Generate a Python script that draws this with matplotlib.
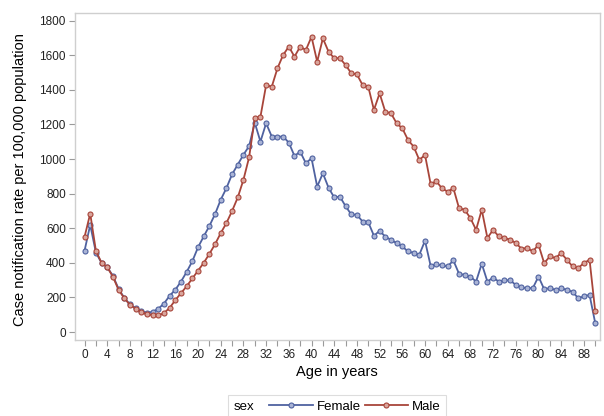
import matplotlib
matplotlib.use("Agg")
import matplotlib.pyplot as plt
from matplotlib.offsetbox import HPacker
from matplotlib.ticker import MultipleLocator

plt.rcParams['font.family'] = ['Liberation Sans', 'DejaVu Sans']

ages = list(range(91))
female = [470, 620, 460, 400, 375, 325, 250, 198, 160, 138,
          120, 112, 117, 135, 165, 210, 245, 292, 348, 410,
          490, 553, 613, 682, 765, 832, 912, 968, 1025, 1075,
          1210, 1101, 1207, 1130, 1130, 1130, 1095, 1018, 1043, 976,
          1005, 841, 918, 835, 778, 783, 728, 680, 678, 639,
          635, 557, 585, 552, 533, 514, 495, 466, 458, 447,
          528, 382, 392, 385, 380, 414, 337, 330, 320, 292,
          395, 292, 315, 292, 299, 299, 273, 258, 254, 254,
          321, 248, 254, 244, 254, 244, 233, 196, 206, 215, 52]
male = [550, 685, 470, 400, 375, 320, 244, 196, 158, 136,
        117, 102, 98, 96, 110, 140, 185, 225, 265, 310,
        355, 400, 452, 508, 572, 630, 700, 778, 880, 1010,
        1236, 1245, 1428, 1419, 1525, 1602, 1650, 1592, 1650, 1630,
        1707, 1563, 1698, 1621, 1583, 1583, 1544, 1496, 1490, 1428,
        1419, 1284, 1380, 1274, 1265, 1207, 1178, 1111, 1072, 995,
        1024, 855, 872, 830, 812, 832, 716, 707, 659, 591,
        707, 544, 591, 553, 544, 534, 515, 482, 486, 466,
        505, 399, 437, 428, 457, 418, 380, 370, 399, 418, 119]

series = [("Female", female, "#4f62a0", "#aab4d6"),
          ("Male", male, "#a8453a", "#d9a59c")]

fig = plt.figure(figsize=(6.04, 4.16), dpi=100)
ax = fig.add_axes([0.124, 0.183, 0.869, 0.786])

for name, vals, col, fill in series:
    ax.plot(ages, vals, color=col, lw=1.3, marker='o', ms=3.6,
            mfc=fill, mec=col, mew=0.8, label=name)

ax.set_xlim(-1.7, 90.8)
ax.set_ylim(-45, 1845)
ax.xaxis.set_major_locator(MultipleLocator(4))
ax.xaxis.set_minor_locator(MultipleLocator(2))
ax.yaxis.set_major_locator(MultipleLocator(200))

for s in ax.spines.values():
    s.set_color('#cfcfcf')
    s.set_linewidth(1.0)
ax.tick_params(axis='both', which='both', color='#9a9a9a', length=4,
               width=0.8, labelsize=8.5, labelcolor='#222222', pad=2.5)
ax.tick_params(axis='x', which='minor', length=4)
for lab in ax.get_xticklabels():
    lab.set_family(['Liberation Sans Narrow', 'Liberation Sans'])

ax.set_xlabel("Age in years", fontsize=10.5, labelpad=3)
ax.set_ylabel("Case notification rate per 100,000 population", fontsize=10.5)
ax.yaxis.set_label_coords(-0.092, 0.49)

leg = ax.legend(title="sex", ncol=2, loc='center', bbox_to_anchor=(0.5, -0.205),
                fontsize=9.5, title_fontsize=9.5, frameon=True, fancybox=False,
                handlelength=3.3, handletextpad=0.3, columnspacing=0.3,
                borderpad=0.3, edgecolor='#d5d5d5')
leg.get_frame().set_linewidth(0.8)

# put the "sex" title on the same row as the entries
title_box, entries_box = leg._legend_box.get_children()
fs = leg._fontsize * fig.dpi / 72
leg._legend_box = HPacker(pad=leg.borderpad * fs, sep=0.8 * fs, align='center',
                          children=[title_box, entries_box])
leg._legend_box.set_figure(fig)
leg._legend_box.axes = ax
leg._set_loc(leg._get_loc())

fig.savefig("out.png", dpi=100)
